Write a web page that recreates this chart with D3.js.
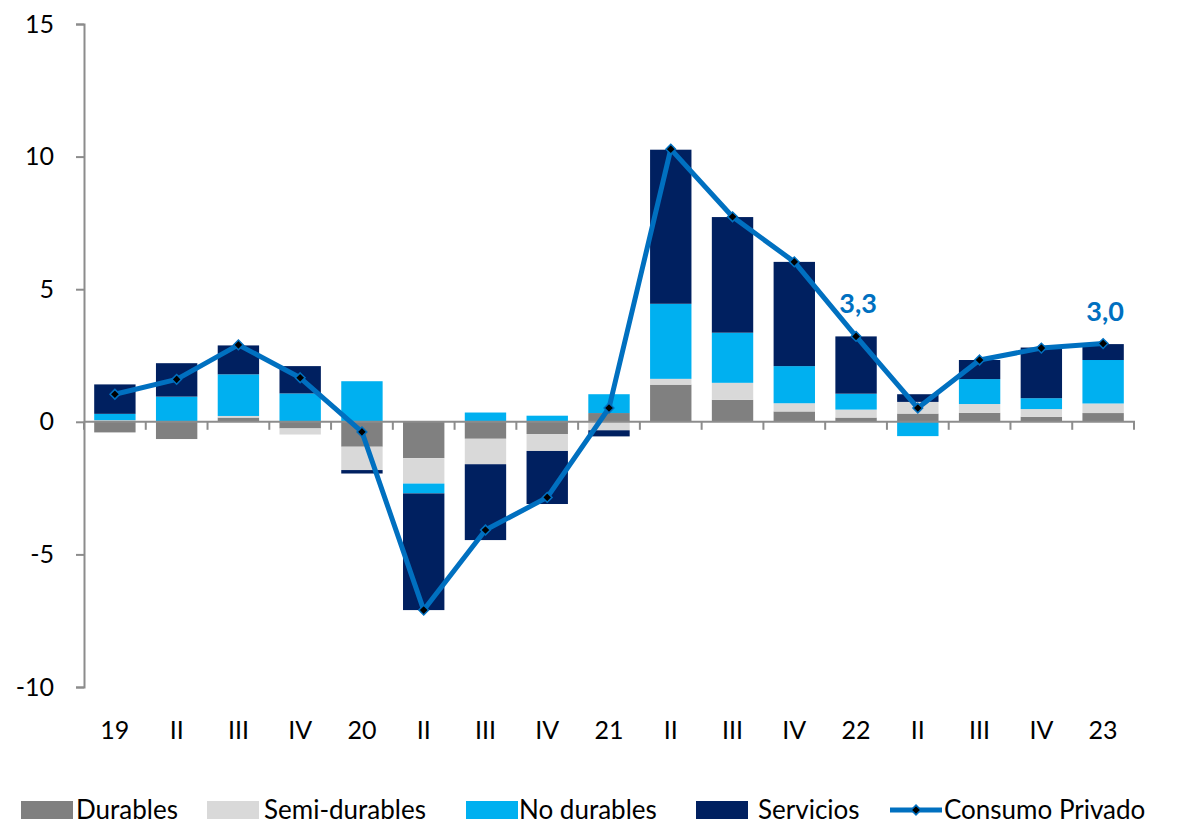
<!DOCTYPE html>
<html>
<head>
<meta charset="utf-8">
<script src="https://cdn.jsdelivr.net/npm/d3@7.9.0/dist/d3.min.js"></script>
<style>
  body { margin: 0; background: #fff; }
  svg text { font-family: Lato, "Open Sans", sans-serif; fill: #000; }
</style>
</head>
<body>
<svg id="chart" width="1178" height="826"></svg>
<script>
// quarters
const quarters = ["19", "II", "III", "IV", "20", "II", "III", "IV", "21", "II", "III", "IV", "22", "II", "III", "IV", "23"];

// contributions (pp)
const durables = [-0.40, -0.65, 0.16, -0.25, -0.94, -1.37, -0.64, -0.46, 0.33, 1.40, 0.83, 0.39, 0.16, 0.31, 0.34, 0.19, 0.33];
const semiDurables = [0.06, 0.00, 0.06, -0.23, -0.88, -0.96, -0.96, -0.64, -0.32, 0.22, 0.64, 0.31, 0.30, 0.44, 0.33, 0.29, 0.36];
const noDurables = [0.24, 0.95, 1.57, 1.07, 1.53, -0.37, 0.35, 0.23, 0.71, 2.83, 1.89, 1.40, 0.60, -0.54, 0.94, 0.41, 1.64];
const servicios = [1.11, 1.26, 1.09, 1.03, -0.13, -4.40, -2.86, -2.00, -0.23, 5.81, 4.36, 3.93, 2.16, 0.29, 0.72, 1.91, 0.60];
const consumoPrivado = [1.04, 1.60, 2.90, 1.66, -0.38, -7.10, -4.08, -2.85, 0.52, 10.28, 7.73, 6.03, 3.22, 0.52, 2.33, 2.78, 2.95];

const seriesNames = ["Durables", "Semi-durables", "No durables", "Servicios"];
const seriesColors = ["#808080", "#d9d9d9", "#00b0f0", "#002060"];
const lineName = "Consumo Privado";
const lineColor = "#0070c0";

// labelled points
const callouts = [{ i: 12, text: "3,3" }, { i: 16, text: "3,0" }];

const yTicks = [-10, -5, 0, 5, 10, 15];

const svg = d3.select("#chart");

const x = d3.scaleBand()
  .domain(d3.range(quarters.length))
  .range([84, 1134])
  .paddingInner(0.33)
  .paddingOuter(0.165);

const y = d3.scaleLinear().domain([-10, 15]).range([687, 24]);

// table for stacking
const table = quarters.map((q, i) => ({
  i,
  "Durables": durables[i],
  "Semi-durables": semiDurables[i],
  "No durables": noDurables[i],
  "Servicios": servicios[i],
}));

const stacked = d3.stack()
  .keys(seriesNames)
  .offset(d3.stackOffsetDiverging)(table);

// y axis
const yAxis = svg.append("g")
  .attr("transform", "translate(84,0)")
  .call(d3.axisLeft(y).tickValues(yTicks).tickSize(8).tickPadding(22).tickFormat(d => String(d)));
yAxis.select(".domain").attr("stroke", "#8c8c8c").attr("stroke-width", 2);
yAxis.selectAll(".tick line").attr("stroke", "#8c8c8c").attr("stroke-width", 2);
yAxis.selectAll(".tick text")
  .style("font-size", "25px")
  .style("font-family", "Lato, sans-serif")
  .attr("fill", "#000");

// bars
svg.append("g")
  .selectAll("g")
  .data(stacked)
  .join("g")
  .attr("fill", (d, k) => seriesColors[k])
  .selectAll("rect")
  .data(d => d)
  .join("rect")
  .attr("x", (d, i) => x(i))
  .attr("width", x.bandwidth())
  .attr("y", d => y(Math.max(d[0], d[1])))
  .attr("height", d => Math.abs(y(d[0]) - y(d[1])));

// x axis on zero line
const xAxisG = svg.append("g").attr("transform", `translate(0,${y(0)})`);
xAxisG.append("line")
  .attr("x1", 84).attr("x2", 1135)
  .attr("stroke", "#8c8c8c").attr("stroke-width", 2);
xAxisG.selectAll("line.tk")
  .data(d3.range(quarters.length + 1))
  .join("line")
  .attr("class", "tk")
  .attr("x1", i => 84 + i * (1050 / quarters.length))
  .attr("x2", i => 84 + i * (1050 / quarters.length))
  .attr("y1", 0).attr("y2", 8)
  .attr("stroke", "#8c8c8c").attr("stroke-width", 2);

// x labels
svg.append("g")
  .selectAll("text")
  .data(quarters)
  .join("text")
  .attr("x", (d, i) => x(i) + x.bandwidth() / 2)
  .attr("y", 739)
  .attr("text-anchor", "middle")
  .style("font-size", "25px")
  .text(d => d);

// line
const line = d3.line()
  .x((d, i) => x(i) + x.bandwidth() / 2)
  .y(d => y(d));

svg.append("path")
  .datum(consumoPrivado)
  .attr("fill", "none")
  .attr("stroke", lineColor)
  .attr("stroke-width", 5)
  .attr("stroke-linejoin", "round")
  .attr("d", line);

const diamond = d3.symbol().type(d3.symbolDiamond2).size(60);
svg.append("g")
  .selectAll("path")
  .data(consumoPrivado)
  .join("path")
  .attr("transform", (d, i) => `translate(${x(i) + x.bandwidth() / 2},${y(d)})`)
  .attr("d", diamond)
  .attr("fill", "#000")
  .attr("stroke", lineColor)
  .attr("stroke-width", 1.5);

// callouts
svg.append("g")
  .selectAll("text")
  .data(callouts)
  .join("text")
  .attr("x", d => x(d.i) + x.bandwidth() / 2 + 2)
  .attr("y", d => y(consumoPrivado[d.i]) - 23)
  .attr("text-anchor", "middle")
  .style("font-size", "27px")
  .style("font-weight", "bold")
  .style("fill", lineColor)
  .text(d => d.text);

// legend - item starts taken from the original layout
const legendX = [21, 207, 466, 696];
const legendTextGap = [55, 57, 53, 62];
const legend = svg.append("g").attr("transform", "translate(0,810)");
seriesNames.forEach((name, k) => {
  legend.append("rect")
    .attr("x", legendX[k]).attr("y", -9)
    .attr("width", 52).attr("height", 18)
    .attr("fill", seriesColors[k]);
  legend.append("text")
    .attr("x", legendX[k] + legendTextGap[k]).attr("y", 9)
    .style("font-size", "26px")
    .text(name);
});
const lx = 890;
legend.append("line")
  .attr("x1", lx).attr("x2", lx + 52)
  .attr("stroke", lineColor).attr("stroke-width", 5);
legend.append("path")
  .attr("transform", `translate(${lx + 26},0)`)
  .attr("d", diamond)
  .attr("fill", "#000")
  .attr("stroke", lineColor)
  .attr("stroke-width", 1.5);
legend.append("text")
  .attr("x", lx + 54).attr("y", 9)
  .style("font-size", "26px")
  .text(lineName);
</script>
</body>
</html>
